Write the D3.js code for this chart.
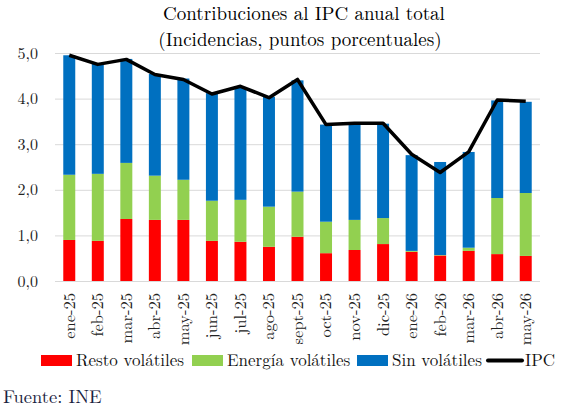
<!DOCTYPE html>
<html>
<head>
<meta charset="utf-8">
<script src="https://cdn.jsdelivr.net/npm/d3@7"></script>
<style>
  body { margin: 0; background: #fff; }
</style>
</head>
<body>
<svg id="chart" width="562" height="411"></svg>
<script>
const months = ["ene-25", "feb-25", "mar-25", "abr-25", "may-25", "jun-25", "jul-25", "ago-25",
  "sept-25", "oct-25", "nov-25", "dic-25", "ene-26", "feb-26", "mar-26", "abr-26", "may-26"];
const resto = [0.90, 0.88, 1.36, 1.34, 1.34, 0.88, 0.86, 0.75, 0.97, 0.61, 0.68, 0.81, 0.64, 0.56, 0.66, 0.59, 0.55];
const energia = [1.43, 1.47, 1.23, 0.97, 0.88, 0.88, 0.92, 0.88, 0.99, 0.69, 0.66, 0.57, 0.02, 0.01, 0.07, 1.23, 1.38];
const sinVolatiles = [2.62, 2.42, 2.28, 2.23, 2.22, 2.36, 2.47, 2.41, 2.44, 2.13, 2.11, 2.07, 2.10, 2.04, 2.10, 2.14, 2.00];
const ipc = [4.95, 4.75, 4.86, 4.53, 4.42, 4.10, 4.27, 4.02, 4.42, 3.43, 3.46, 3.46, 2.78, 2.38, 2.83, 3.97, 3.94];
const yTicks = [0, 1, 2, 3, 4, 5];

const seriesKeys = ["resto", "energia", "sin"];
const seriesNames = ["Resto volátiles", "Energía volátiles", "Sin volátiles"];
const colors = ["#ff0000", "#92d050", "#0070c0"];

const FONT = "'Latin Modern Roman', 'Liberation Serif', serif";

const svg = d3.select("#chart");
const margin = { left: 55, right: 22, top: 53, bottom: 130 };
const width = 562 - margin.left - margin.right;
const height = 411 - margin.top - margin.bottom;

const g = svg.append("g").attr("transform", `translate(${margin.left},${margin.top})`);

// table for the stack
const table = months.map((m, i) => ({ month: m, resto: resto[i], energia: energia[i], sin: sinVolatiles[i] }));
const stacked = d3.stack().keys(seriesKeys)(table);

const x = d3.scaleBand().domain(months).range([0, width]).paddingInner(0.58).paddingOuter(0.29);
const y = d3.scaleLinear().domain([0, 5]).range([height, 0]);

// grid lines
g.append("g")
  .attr("class", "grid")
  .call(d3.axisLeft(y).tickValues(yTicks).tickSize(-width).tickFormat(""))
  .call((s) => s.select(".domain").remove())
  .selectAll("line")
  .style("stroke", "#d9d9d9")
  .style("stroke-width", 1);

// y labels
g.append("g")
  .call(d3.axisLeft(y).tickValues(yTicks).tickSize(0).tickPadding(17)
    .tickFormat((d) => d3.format(".1f")(d).replace(".", ",")))
  .call((s) => s.select(".domain").remove())
  .selectAll("text")
  .style("font-family", FONT)
  .style("font-size", "16px")
  .style("fill", "#222");

// bars
g.selectAll(".serie")
  .data(stacked)
  .enter()
  .append("g")
  .attr("fill", (d, i) => colors[i])
  .selectAll("rect")
  .data((d) => d)
  .enter()
  .append("rect")
  .attr("x", (d) => x(d.data.month))
  .attr("y", (d) => y(d[1]))
  .attr("width", x.bandwidth())
  .attr("height", (d) => y(d[0]) - y(d[1]));

// IPC line
const line = d3.line()
  .x((d, i) => x(months[i]) + x.bandwidth() / 2)
  .y((d) => y(d));

g.append("path")
  .datum(ipc)
  .attr("fill", "none")
  .attr("stroke", "#000")
  .attr("stroke-width", 3.5)
  .attr("stroke-linejoin", "round")
  .attr("d", line);

// x labels
g.append("g")
  .attr("transform", `translate(0,${height})`)
  .call(d3.axisBottom(x).tickSize(0).tickPadding(0))
  .call((s) => s.select(".domain").remove())
  .selectAll("text")
  .style("font-family", FONT)
  .style("font-size", "16.5px")
  .style("fill", "#222")
  .attr("text-anchor", "end")
  .attr("transform", "rotate(-90)")
  .attr("x", -12)
  .attr("y", 0)
  .attr("dy", "0.33em");

// title
const title = svg.append("g")
  .style("font-family", FONT)
  .style("font-size", "19px");
title.append("text")
  .attr("x", 304)
  .attr("y", 20)
  .attr("text-anchor", "middle")
  .text("Contribuciones al IPC anual total");
title.append("text")
  .attr("x", 300)
  .attr("y", 46)
  .attr("text-anchor", "middle")
  .text("(Incidencias, puntos porcentuales)");

// legend
const legendItems = [
  { name: seriesNames[0], color: colors[0], x: 41, type: "rect" },
  { name: seriesNames[1], color: colors[1], x: 192, type: "rect" },
  { name: seriesNames[2], color: colors[2], x: 357, type: "rect" },
  { name: "IPC", color: "#000", x: 488, type: "line" }
];
const legend = svg.append("g")
  .attr("transform", "translate(0,355)")
  .style("font-family", FONT)
  .style("font-size", "17px");
legendItems.forEach((d) => {
  const item = legend.append("g").attr("transform", `translate(${d.x},0)`);
  if (d.type === "rect") {
    item.append("rect").attr("width", 31).attr("height", 11).attr("fill", d.color);
  } else {
    item.append("line").attr("x1", 0).attr("x2", 34).attr("y1", 5.5).attr("y2", 5.5)
      .attr("stroke", d.color).attr("stroke-width", 4).attr("stroke-linecap", "round");
  }
  item.append("text")
    .attr("x", d.type === "rect" ? 35 : 37)
    .attr("y", 11)
    .style("fill", "#111")
    .text(d.name);
});

// source
svg.append("text")
  .attr("x", 3)
  .attr("y", 403)
  .style("font-family", FONT)
  .style("font-size", "18.5px")
  .style("fill", "#1a2340")
  .text("Fuente: INE");
</script>
</body>
</html>
